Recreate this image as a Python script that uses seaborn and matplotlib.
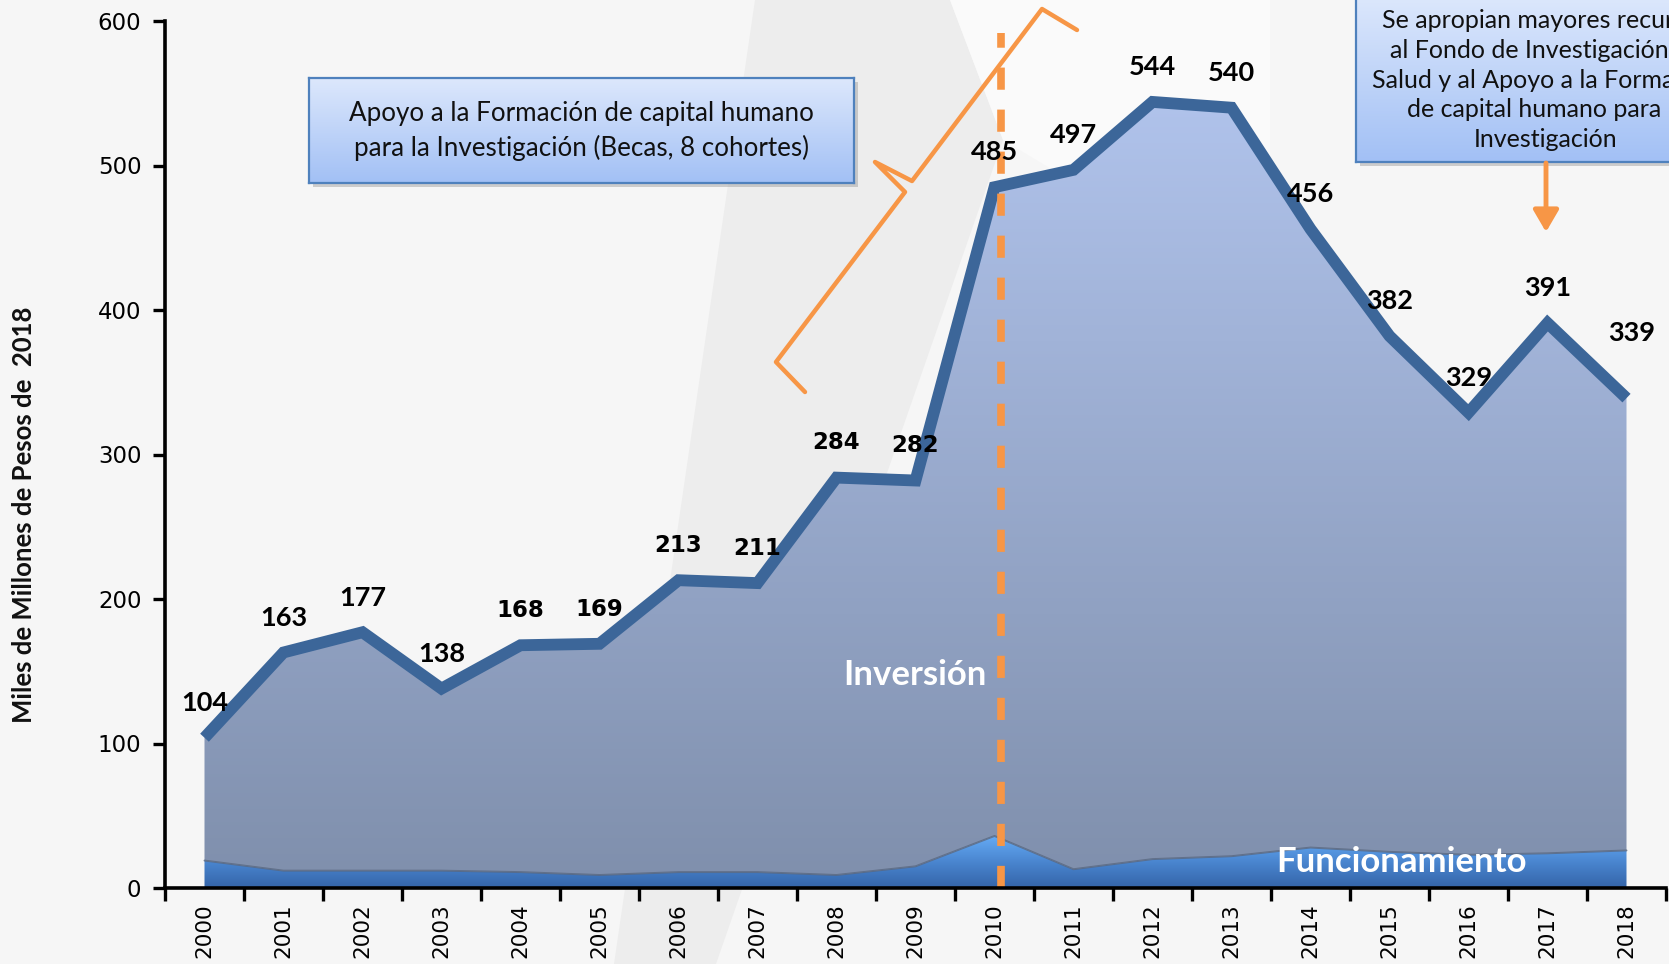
import numpy as np
import matplotlib
matplotlib.use("Agg")
import matplotlib.pyplot as plt
import seaborn as sns
from matplotlib.patches import Rectangle, Polygon, FancyArrowPatch
from matplotlib.lines import Line2D
from matplotlib.colors import LinearSegmentedColormap

# ---------------- data ----------------
years = [str(y) for y in range(2000, 2019)]
total = [104, 163, 177, 138, 168, 169, 213, 211, 284, 282,
         485, 497, 544, 540, 456, 382, 329, 391, 339]
funcionamiento = [19, 12, 12, 12, 11, 9, 11, 11, 9, 15,
                  36, 13, 20, 22, 28, 25, 23, 24, 26]
y_ticks = [0, 100, 200, 300, 400, 500, 600]
y_label = "Miles de Millones de Pesos de  2018"
label_inv = "Inversión"
label_fun = "Funcionamiento"
box_left_text = "Apoyo a la Formación de capital humano\npara la Investigación (Becas, 8 cohortes)"
box_right_text = ("Se apropian mayores recursos\nal Fondo de Investigación en\n"
                  "Salud y al Apoyo a la Formación\nde capital humano para la\nInvestigación")
highlight_year = "2010"

# label placement style (offset points), default and special cases
label_offset = (0, 25)
label_nudge = {18: (4, 47)}

# ---------------- style ----------------
sns.set_theme(style="white")
plt.rcParams['font.family'] = ['DejaVu Sans']

W, H = 1669, 964
fig = plt.figure(figsize=(W / 100, H / 100), dpi=100)
BG = '#F6F6F6'
fig.patch.set_facecolor(BG)

def fx(px):
    return px / W

def fy(py):
    return 1 - py / H

# subtle decorative background bands
band = Polygon([(fx(755), fy(0)), (fx(950), fy(0)), (fx(1003), fy(140)),
                (fx(716), fy(964)), (fx(614), fy(964))],
               closed=True, transform=fig.transFigure, facecolor='#EDEDED',
               edgecolor='none', zorder=-5)
fig.patches.append(band)
wedge = Polygon([(fx(950), fy(0)), (fx(1270), fy(0)), (fx(1270), fy(300)),
                 (fx(1003), fy(140))],
                closed=True, transform=fig.transFigure, facecolor='#FAFAFA',
                edgecolor='none', zorder=-5)
fig.patches.append(wedge)

ax = fig.add_axes([fx(165), 1 - 888 / H, (1666 - 165) / W, (888 - 21) / H])
ax.set_facecolor('none')

x = np.arange(len(years))
grad = np.linspace(0, 1, 256).reshape(-1, 1)

# Inversión area (stacked over Funcionamiento) with vertical gradient
poly_inv = ax.fill_between(x, funcionamiento, total, color='none', lw=0, zorder=1)
cmap_inv = LinearSegmentedColormap.from_list('inv', ['#7F8FAC', '#B2C5EE'])
im_inv = ax.imshow(grad, extent=[-0.5, 18.5, 0, 570], origin='lower', aspect='auto',
                   cmap=cmap_inv, zorder=1, interpolation='bilinear')
im_inv.set_clip_path(poly_inv.get_paths()[0], ax.transData)

# Funcionamiento area
poly_fun = ax.fill_between(x, 0, funcionamiento, color='none', lw=0, zorder=2)
cmap_fun = LinearSegmentedColormap.from_list('fun', ['#3464A8', '#4A86D0', '#66ACF6'])
im_fun = ax.imshow(grad, extent=[-0.5, 18.5, 0, 36], origin='lower', aspect='auto',
                   cmap=cmap_fun, zorder=2, interpolation='bilinear')
im_fun.set_clip_path(poly_fun.get_paths()[0], ax.transData)
ax.plot(x, funcionamiento, color='#5A6880', lw=1.4, alpha=0.8, zorder=2.5)

# total line
sns.lineplot(x=x, y=total, ax=ax, color='#3C6699', lw=8.5, zorder=4,
             solid_joinstyle='miter', solid_capstyle='butt', legend=False)

# dashed highlight at 2010
hx = years.index(highlight_year) + 0.08
ax.plot([hx, hx], [0, 592], color='#F79646', lw=5.5, linestyle=(0, (2.9, 2.6)),
        zorder=5, clip_on=False, dash_capstyle='butt')

# value labels
for i, v in enumerate(total):
    if 4 <= i <= 9:
        fam, fs = ['DejaVu Sans'], 16.5
    else:
        fam, fs = ['Lato', 'DejaVu Sans'], 19.5
    off = label_nudge.get(i, label_offset)
    ax.annotate(str(v), (i, v), xytext=off, textcoords='offset points',
                ha='center', va='center', fontweight='bold', fontsize=fs,
                family=fam, color='black', zorder=6)

# axes formatting
ax.set_xlim(-0.5, 18.5)
ax.set_ylim(0, 600)
ax.set_yticks(y_ticks)
ax.set_yticklabels([str(t) for t in y_ticks])
ax.set_xticks(x)
ax.set_xticklabels(years, rotation=90)
ax.set_xticks(np.arange(-0.5, 19, 1), minor=True)
for s in ['top', 'right']:
    ax.spines[s].set_visible(False)
for s in ['left', 'bottom']:
    ax.spines[s].set_color('black')
    ax.spines[s].set_linewidth(2.6)
    ax.spines[s].set_zorder(7)
ax.tick_params(axis='y', which='major', length=9, width=2.4, direction='out',
               labelsize=16.5, pad=8, colors='black', left=True)
ax.tick_params(axis='x', which='major', length=0, pad=11, labelsize=15.5, colors='black')
ax.tick_params(axis='x', which='minor', length=9, width=2.4, direction='out',
               bottom=True, colors='black')
ax.grid(False)

# y label
fig.text(fx(24), fy(515), y_label, rotation=90, ha='center', va='center',
         fontsize=18.5, fontweight='bold', family=['Lato', 'DejaVu Sans'], color='#111111')

# area labels
fig.text(fx(915), fy(675), label_inv, ha='center', va='center', fontsize=25,
         fontweight='bold', family=['Lato', 'DejaVu Sans'], color='white', zorder=10)
fig.text(fx(1401), fy(862), label_fun, ha='center', va='center', fontsize=25,
         fontweight='bold', family=['Lato', 'DejaVu Sans'], color='white', zorder=10)

# boxes with gradient
cmap_box = LinearSegmentedColormap.from_list('box', ['#A2C0F5', '#DDE8FC'])

def gradient_box(x0, y0, x1, y1, text, tx, ty, fs, ls):
    sh = Rectangle((fx(x0 + 4), fy(y1 + 4)), (x1 - x0) / W, (y1 - y0) / H,
                   transform=fig.transFigure, facecolor='#9A9A9A', alpha=0.45,
                   edgecolor='none', zorder=8)
    fig.patches.append(sh)
    bax = fig.add_axes([fx(x0), fy(y1), (x1 - x0) / W, (y1 - y0) / H], zorder=9)
    bax.imshow(grad, extent=[0, 1, 0, 1], origin='lower', aspect='auto',
               cmap=cmap_box, interpolation='bilinear')
    bax.set_xlim(0, 1)
    bax.set_ylim(0, 1)
    bax.set_xticks([])
    bax.set_yticks([])
    for s in bax.spines.values():
        s.set_color('#4F81BD')
        s.set_linewidth(1.6)
    fig.text(fx(tx), fy(ty), text, ha='center', va='center', fontsize=fs,
             family=['Lato', 'DejaVu Sans'], color='#111111', linespacing=ls, zorder=12)

gradient_box(309, 78, 854, 183, box_left_text, 581, 131, 18.7, 1.38)
gradient_box(1356, -5, 1740, 162, box_right_text, 1546, 80, 18.0, 1.35)

# arrow from right box
arr = FancyArrowPatch((fx(1546), fy(163)), (fx(1546), fy(232)),
                      transform=fig.transFigure, arrowstyle='-|>,head_width=0.35,head_length=0.6',
                      mutation_scale=22, color='#F79646', lw=3.5, shrinkA=0, shrinkB=0,
                      zorder=11)
fig.patches.append(arr)

# curly bracket
br_px = [(805, 392), (776, 362), (905, 192), (875, 162), (912, 181), (1042, 9), (1077, 30)]
bracket = Line2D([fx(p[0]) for p in br_px], [fy(p[1]) for p in br_px],
                 transform=fig.transFigure, color='#F79646', lw=3.2,
                 solid_joinstyle='round', solid_capstyle='round', zorder=11)
fig.lines.append(bracket)

fig.savefig('out.png', dpi=100, facecolor=BG)
